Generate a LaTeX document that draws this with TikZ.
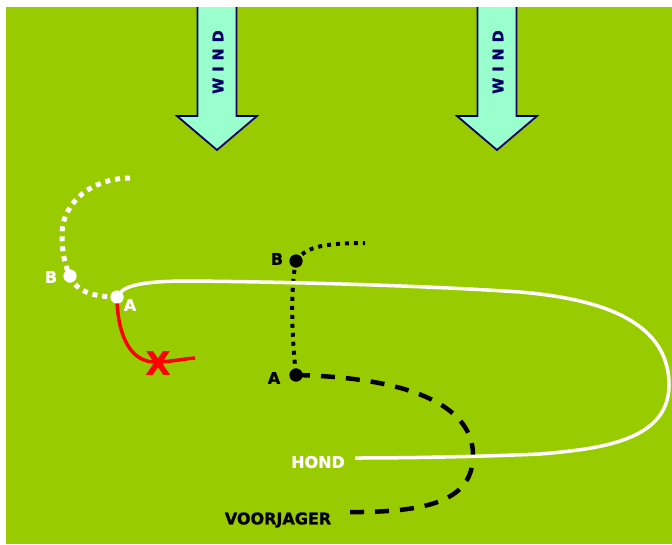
\documentclass[tikz,border=0pt]{standalone}
\usepackage{fontspec}
\setsansfont{DejaVu Sans}[BoldFeatures={FakeBold=1.2}]
\definecolor{field}{RGB}{153,204,0}
\definecolor{windfill}{RGB}{153,255,204}
\definecolor{windline}{RGB}{0,0,102}
\begin{document}
\begin{tikzpicture}[x=1pt,y=-1pt,
    lbl/.style={font=\sffamily\bfseries\fontsize{16}{18}\selectfont, inner sep=0pt},
    windtxt/.style={font=\sffamily\bfseries\fontsize{14.5}{16}\selectfont, text=windline, inner sep=0pt, rotate=90},
    windarrow/.style={fill=windfill, draw=windline, line width=1.8pt, line join=miter},
    dot/.style={circle, inner sep=0pt, minimum size=13pt},
    hondline/.style={white, line width=3.5pt},
    whitedots/.style={white, line width=5pt, dash pattern=on 5pt off 5pt},
    blackdots/.style={black, line width=4pt, dash pattern=on 4pt off 5pt},
    blackdash/.style={black, line width=4.5pt, dash pattern=on 14pt off 11pt}]
  \useasboundingbox (0,0) rectangle (672,544);
  \fill[white] (0,0) rectangle (672,544);
  \fill[field] (6,7) rectangle (672,544);

  % wind arrows
  \begin{scope}
    \clip (6,7) rectangle (672,544);
    \foreach \cx [count=\i] in {217,497} {
      \draw[windarrow] ({\cx-19.5},0) -- ({\cx+19.5},0) -- ({\cx+19.5},116) -- ({\cx+40},116)
        -- (\cx,150) -- ({\cx-40},116) -- ({\cx-19.5},116) -- cycle;
      \node[windtxt] (wind\i) at ({\cx+1},62) {W\hspace{6pt}I\hspace{6pt}N\hspace{6pt}D};
    }
  \end{scope}

  % dots and labels
  \node[dot, fill=white] (wB) at (70,276) {};
  \node[dot, fill=white] (wA) at (117,297) {};
  \node[dot, fill=black] (bB) at (296,261) {};
  \node[dot, fill=black] (bA) at (296,375) {};
  \node[lbl, text=white] (wBl) at (51,277) {B};
  \node[lbl, text=white] (wAl) at (130,305) {A};
  \node[lbl] (bBl) at (277,259) {B};
  \node[lbl] (bAl) at (274,378) {A};
  \node[lbl, text=white] (hond) at (318,462) {HOND};
  \node[lbl] (vj) at (278,520) {VOORJAGER};
  \coordinate (wEnd) at (130,178);
  \coordinate (bEnd) at (365,243);
  \coordinate (redEnd) at (195,358);
  \coordinate (hondEnd) at (355,458);
  \coordinate (vjEnd) at (345,512);

  % paths
  \draw[whitedots] (wEnd) .. controls (95,178) and (62,200) .. (62,235)
    .. controls (62,255) and (66,268) .. (wB.center);
  \draw[whitedots] (wB.center) .. controls (76,292) and (95,297) .. (wA.center);
  \draw[red, line width=3.5pt] (wA.center) .. controls (117,326) and (126,362) .. (155,362)
    .. controls (170,362) and (182,359) .. (redEnd);
  \node[font=\sffamily\bfseries\fontsize{32}{34}\selectfont, text=red, inner sep=0pt] (cross) at (158,363) {X};
  \draw[blackdots] (bB.center) .. controls (305,248) and (320,243) .. (bEnd);
  \draw[blackdots] (bB.center) .. controls (290,290) and (292,340) .. (bA.center);
  \draw[blackdash] (bA.center) .. controls (420,378) and (473,410) .. (473,455)
    .. controls (473,500) and (430,513) .. (vjEnd);
  \draw[hondline] (wA.center) .. controls (122,287) and (135,281) .. (190,281)
    .. controls (300,282) and (430,286) .. (520,292)
    .. controls (589,298) and (669,316) .. (669,385)
    .. controls (669,442) and (597,449) .. (540,454)
    .. controls (470,457) and (400,458) .. (hondEnd);

  % dots on top
  \fill[white] (wB) circle (6.5);
  \fill[white] (wA) circle (6.5);
  \fill[black] (bB) circle (6.5);
  \fill[black] (bA) circle (6.5);
\end{tikzpicture}
\end{document}
